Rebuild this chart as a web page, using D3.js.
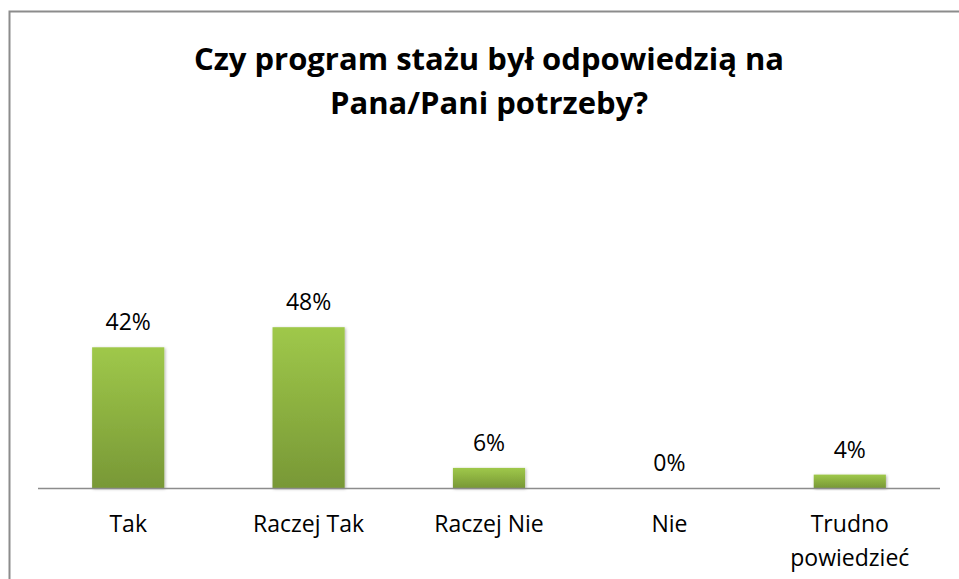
<!DOCTYPE html>
<html>
<head>
<meta charset="utf-8">
<script src="https://cdn.jsdelivr.net/npm/d3@7"></script>
<style>
  body { margin:0; background:#fff; }
  svg { display:block; }
  text { font-family: "Open Sans", "Noto Sans", sans-serif; fill:#000; }
</style>
</head>
<body>
<svg id="chart" width="959" height="579"></svg>
<script>
'use strict';
const categories = ['Tak', 'Raczej Tak', 'Raczej Nie', 'Nie', 'Trudno powiedzieć'];
const values = [42, 48, 6, 0, 4];
const titleLines = ['Czy program stażu był odpowiedzią na', 'Pana/Pani potrzeby?'];

const W = 959, H = 579;
const svg = d3.select('#chart');
const m = { left:38, right:19, top:287, bottom:91 };
const innerW = W - m.left - m.right, innerH = H - m.top - m.bottom;

// frame
svg.append('rect').attr('x',9.5).attr('y',11.5).attr('width',W+20).attr('height',H+20)
  .attr('fill','none').attr('stroke','#8c8c8c').attr('stroke-width',2);

const defs = svg.append('defs');
const grad = defs.append('linearGradient').attr('id','barGrad').attr('x1',0).attr('y1',0).attr('x2',0).attr('y2',1);
grad.append('stop').attr('offset','0%').attr('stop-color','#9fc84a');
grad.append('stop').attr('offset','100%').attr('stop-color','#789836');
const filt = defs.append('filter').attr('id','shadow').attr('x','-20%').attr('y','-20%').attr('width','140%').attr('height','140%');
filt.append('feDropShadow').attr('dx',1).attr('dy',1).attr('stdDeviation',1.5).attr('flood-color','#000').attr('flood-opacity',0.3);

const x = d3.scaleBand().domain(categories).range([0, innerW]).paddingInner(0.6).paddingOuter(0.3);
const y = d3.scaleLinear().domain([0, 60]).range([innerH, 0]);

const g = svg.append('g').attr('transform',`translate(${m.left},${m.top})`);

g.selectAll('rect.bar').data(categories).join('rect').attr('class','bar')
  .attr('x', d => x(d)).attr('width', x.bandwidth())
  .attr('y', (d,i) => y(values[i])).attr('height', (d,i) => innerH - y(values[i]))
  .attr('fill','url(#barGrad)').attr('filter','url(#shadow)');

g.append('line').attr('x1',0).attr('x2',innerW).attr('y1',innerH+0.5).attr('y2',innerH+0.5)
  .attr('stroke','#8c8c8c').attr('stroke-width',1.5);

g.selectAll('text.val').data(categories).join('text').attr('class','val')
  .attr('x', d => x(d) + x.bandwidth()/2)
  .attr('y', (d,i) => y(values[i]) - 17)
  .attr('text-anchor','middle').style('font-size','23px')
  .text((d,i) => values[i] + '%');

const xAxis = g.append('g').attr('transform',`translate(0,${innerH})`)
  .call(d3.axisBottom(x).tickSize(0).tickPadding(0).tickFormat(''));
xAxis.select('.domain').remove();
xAxis.selectAll('.tick').each(function(d) {
  const words = d === 'Trudno powiedzieć' ? ['Trudno', 'powiedzieć'] : [d];
  const t = d3.select(this).append('text').attr('text-anchor','middle').style('font-size','23px');
  words.forEach((w, i) => t.append('tspan').attr('x',0).attr('y', 44 + i*34).text(w));
});

svg.append('text').attr('x', 489).attr('y', 70).attr('text-anchor','middle')
  .style('font-size','31px').style('font-weight','bold')
  .selectAll('tspan').data(titleLines).join('tspan')
  .attr('x', 489).attr('dy', (d,i) => i ? 44 : 0).text(d => d);
</script>
</body>
</html>
